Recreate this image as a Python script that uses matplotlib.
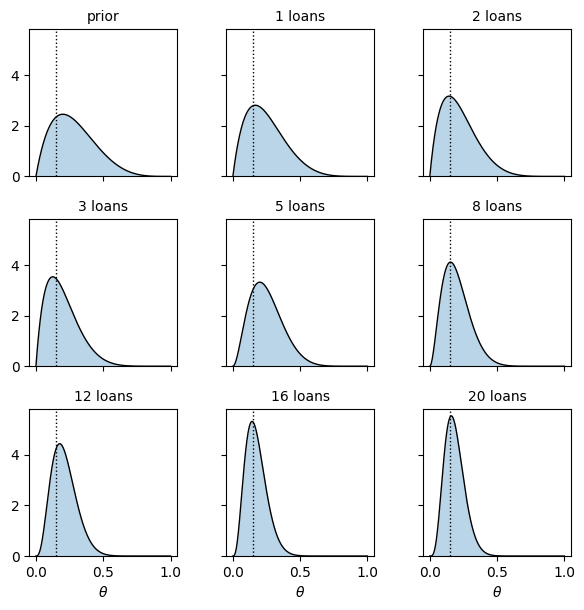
import math
import numpy as np
import matplotlib
matplotlib.use("Agg")
import matplotlib.pyplot as plt

# Beta prior and observed loan outcomes
prior_a, prior_b = 2, 5
true_theta = 0.15
titles = ["prior", "1 loans", "2 loans", "3 loans", "5 loans", "8 loans",
          "12 loans", "16 loans", "20 loans"]
n_loans = [0, 1, 2, 3, 5, 8, 12, 16, 20]
n_defaults = [0, 0, 0, 0, 1, 1, 2, 2, 3]


def beta_pdf(x, a, b):
    lognorm = math.lgamma(a + b) - math.lgamma(a) - math.lgamma(b)
    with np.errstate(divide="ignore"):
        return np.exp(lognorm + (a - 1) * np.log(x) + (b - 1) * np.log1p(-x))


theta = np.linspace(0, 1, 500)

fig, axes = plt.subplots(3, 3, figsize=(5.84, 6.1), dpi=100, sharex=True, sharey=True)
fig.subplots_adjust(left=0.05, right=0.978, top=0.952, bottom=0.0885,
                    wspace=0.33, hspace=0.29)

for ax, title, n, k in zip(axes.flat, titles, n_loans, n_defaults):
    a = prior_a + k
    b = prior_b + (n - k)
    y = beta_pdf(theta, a, b)
    y = np.nan_to_num(y)
    ax.plot(theta, y, color="black", lw=1)
    ax.fill_between(theta, y, color="C0", alpha=0.3, lw=0)
    ax.axvline(true_theta, color="black", ls=":", lw=1)
    ax.set_title(title, fontsize=10)

ax0 = axes[0, 0]
ax0.set_ylim(bottom=0)
ax0.set_xticks([0.0, 0.5, 1.0])
ax0.set_yticks([0, 2, 4])
for ax in axes[-1]:
    ax.set_xlabel(r"$\theta$")

fig.savefig("out.png", dpi=100)
